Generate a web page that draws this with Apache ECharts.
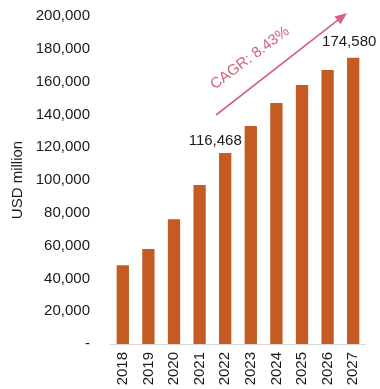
<!DOCTYPE html>
<html>
<head>
<meta charset="utf-8">
<script src="https://cdn.jsdelivr.net/npm/echarts@6/dist/echarts.min.js"></script>
<style>
html,body{margin:0;padding:0;background:#fff;}
#chart{width:380px;height:389px;}
</style>
</head>
<body>
<div id="chart"></div>
<script>
const years = ['2018','2019','2020','2021','2022','2023','2024','2025','2026','2027'];
const values = [48000, 58000, 76000, 97000, 116468, 133000, 147000, 158000, 167000, 174580];
const labelledYears = ['2022', '2027'];
const yTicks = [0, 20000, 40000, 60000, 80000, 100000, 120000, 140000, 160000, 180000, 200000];
const cagrText = 'CAGR: 8.43%';

const FONT = 'Liberation Sans, Arial, sans-serif';
const FS = 15;
const chart = echarts.init(document.getElementById('chart'));

const labelOffsets = {'2022': [-10, 0], '2027': [-4, -3]};
const data = values.map((v, i) => {
  const y = years[i];
  if (labelledYears.includes(y)) {
    return {
      value: v,
      label: {
        show: true, position: 'top', distance: 5, offset: labelOffsets[y],
        formatter: p => p.value.toLocaleString('en-US'),
        fontSize: FS, color: '#1a1a1a', fontFamily: FONT
      }
    };
  }
  return v;
});

// arrow annotation (pixel positions)
const A0 = [216, 115], A1 = [347, 13];
const dx = A1[0] - A0[0], dy = A1[1] - A0[1];
const len = Math.hypot(dx, dy);
const ux = dx / len, uy = dy / len;
const nx = -uy, ny = ux;
const headL = 12, headW = 5;
const bx = A1[0] - ux * headL, by = A1[1] - uy * headL;
const ARROW = '#d0637e';

chart.setOption({
  animation: false,
  grid: {left: 110, right: 14, top: 16, bottom: 45},
  xAxis: {
    type: 'category',
    data: years,
    axisLine: {lineStyle: {color: '#d9d9d9', width: 1}},
    axisTick: {show: false},
    axisLabel: {rotate: 90, margin: 8, fontSize: FS, color: '#1a1a1a', fontFamily: FONT}
  },
  yAxis: {
    type: 'value',
    min: yTicks[0], max: yTicks[yTicks.length - 1], interval: 20000,
    name: 'USD million',
    nameLocation: 'middle',
    nameGap: 84,
    nameRotate: 90,
    nameTextStyle: {fontSize: FS, color: '#1a1a1a', fontFamily: FONT},
    axisLine: {show: false},
    axisTick: {show: false},
    splitLine: {show: false},
    axisLabel: {
      margin: 20, fontSize: FS, color: '#1a1a1a', fontFamily: FONT,
      formatter: v => v === 0 ? '-' : v.toLocaleString('en-US')
    }
  },
  series: [{
    type: 'bar',
    data: data,
    barWidth: '48%',
    itemStyle: {color: '#c55a22'}
  }],
  graphic: [{
    type: 'line',
    shape: {x1: A0[0], y1: A0[1], x2: bx + ux * 2, y2: by + uy * 2},
    style: {stroke: ARROW, lineWidth: 1.6}
  }, {
    type: 'polygon',
    shape: {points: [A1, [bx + nx * headW, by + ny * headW], [bx - nx * headW, by - ny * headW]]},
    style: {fill: ARROW}
  }, {
    type: 'text',
    x: 250, y: 58,
    rotation: 37 * Math.PI / 180,
    style: {
      text: cagrText,
      fontSize: FS, fontFamily: FONT,
      fill: ARROW,
      textAlign: 'center', textVerticalAlign: 'middle'
    }
  }]
});
</script>
</body>
</html>
